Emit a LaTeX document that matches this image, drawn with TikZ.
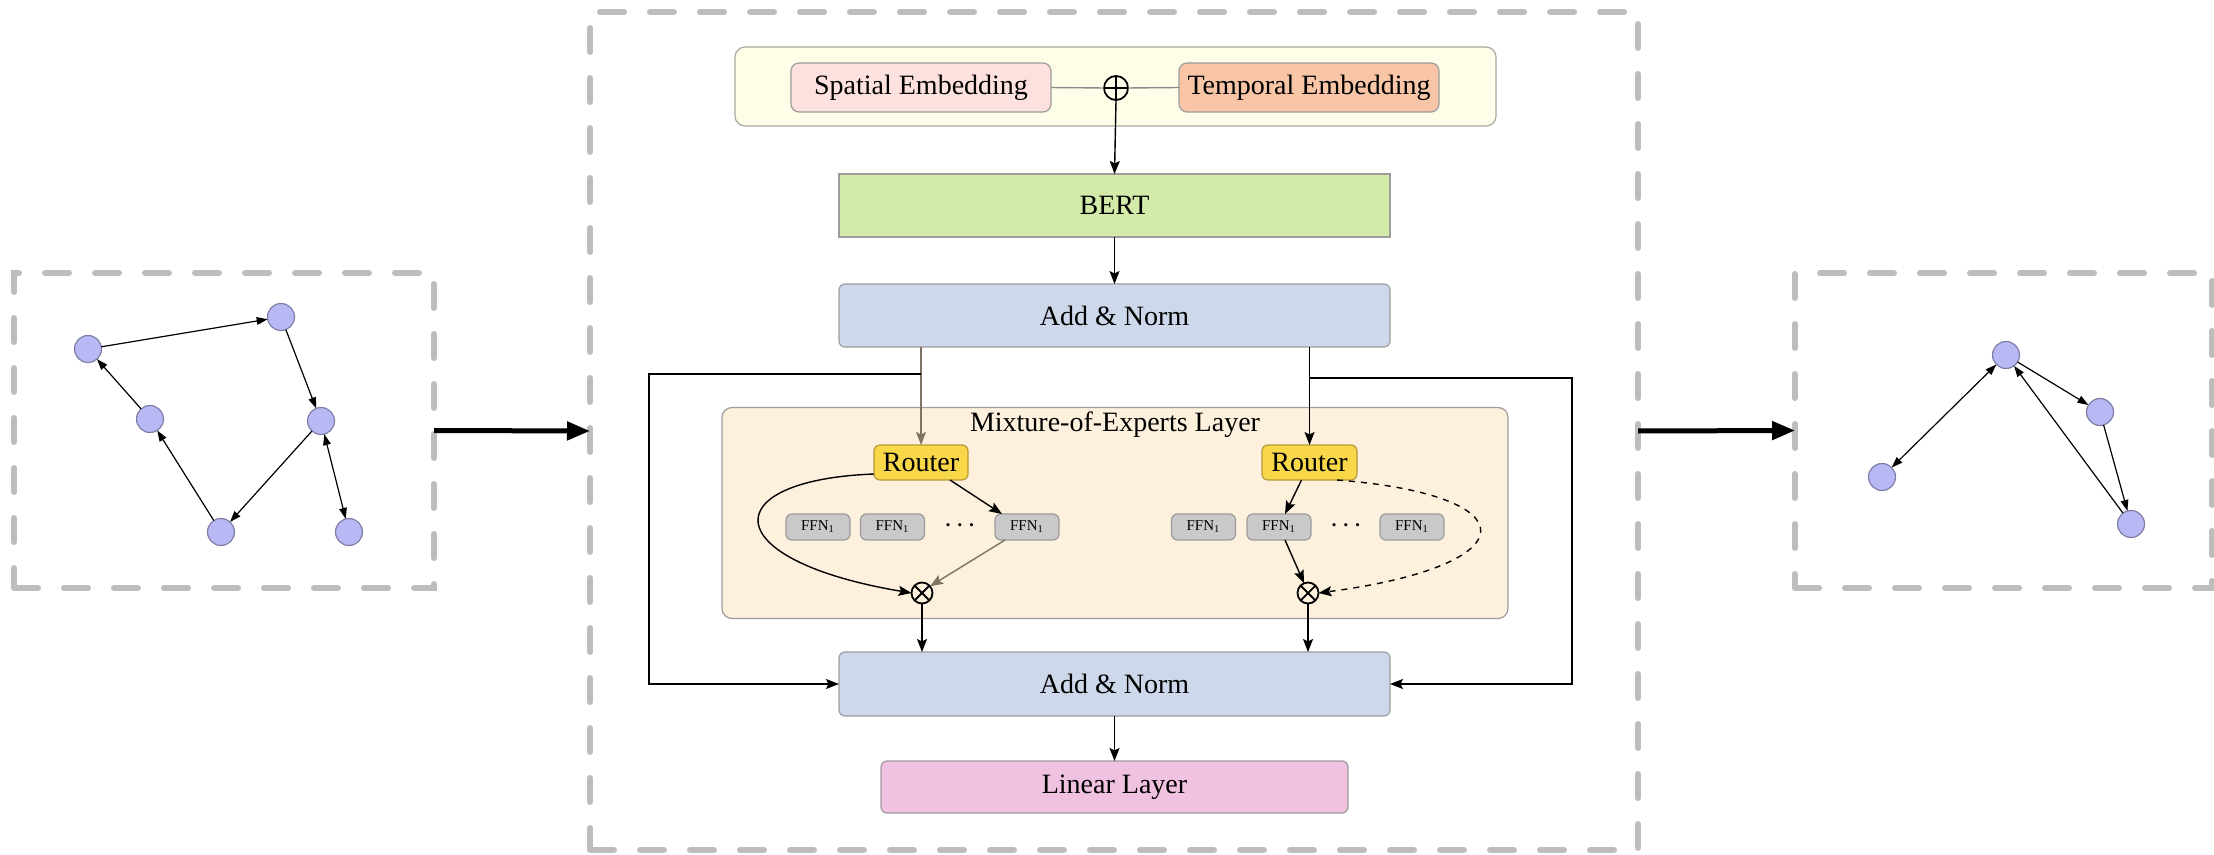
\documentclass[tikz,border=0pt]{standalone}
\usepackage{fontspec}
\setmainfont{Liberation Serif}
\usetikzlibrary{arrows.meta}

\definecolor{dashgray}{HTML}{BDBDBD}
\definecolor{contfill}{HTML}{FDFDE8}
\definecolor{contedge}{HTML}{A9A9A0}
\definecolor{spatialfill}{HTML}{FCE1DF}
\definecolor{temporalfill}{HTML}{F8C6A6}
\definecolor{bertfill}{HTML}{D3EBA9}
\definecolor{anfill}{HTML}{CDD8EA}
\definecolor{moefill}{HTML}{FDF1DD}
\definecolor{routerfill}{HTML}{F8D748}
\definecolor{routeredge}{HTML}{B49A3A}
\definecolor{ffnfill}{HTML}{C9C9C9}
\definecolor{ffnedge}{HTML}{9A9A9A}
\definecolor{linfill}{HTML}{F0C1E0}
\definecolor{gfill}{HTML}{B8B8F5}
\definecolor{gedge}{HTML}{7E7EA8}
\definecolor{brownline}{HTML}{7F7364}
\definecolor{boxedge}{HTML}{9C9C9C}
\definecolor{joinline}{HTML}{8A8A8A}

\begin{document}
\begin{tikzpicture}[x=0.5pt,y=-0.5pt,
  every node/.style={font=\fontsize{14}{16}\selectfont, inner sep=0pt, outer sep=0pt},
  panel/.style={draw=dashgray, line width=3pt, dash pattern=on 12pt off 13pt, line cap=round},
  block/.style={draw=boxedge, line width=0.6pt, rounded corners=3pt},
  ffn/.style={block, fill=ffnfill, draw=ffnedge, minimum width=32pt, minimum height=13pt,
              font=\fontsize{7.5}{9}\selectfont},
  ellipsisdots/.style={font=\fontsize{6.5}{7}\selectfont},
  gnode/.style={circle, fill=gfill, draw=gedge, line width=0.6pt, minimum size=13.5pt},
  garrow/.style={-{Triangle[length=5.5pt,width=3.8pt]}, line width=0.6pt},
  gboth/.style={{Triangle[length=5.5pt,width=3.8pt]}-{Triangle[length=5.5pt,width=3.8pt]}, line width=0.6pt},
  flow/.style={-{Stealth[length=6.5pt,width=5pt,inset=1.2pt]}, line width=0.7pt},
  bigarrow/.style={-{Triangle[length=11.5pt,width=9pt]}, line width=2.5pt},
  opplus/.style={circle, draw, line width=0.9pt, minimum size=12pt,
    path picture={\draw[line width=0.9pt] (path picture bounding box.north) -- (path picture bounding box.south)
                  (path picture bounding box.west) -- (path picture bounding box.east);}},
  optimes/.style={circle, draw, line width=0.9pt, minimum size=10.5pt,
    path picture={\draw[line width=0.9pt] (path picture bounding box.north east) -- (path picture bounding box.south west)
                  (path picture bounding box.north west) -- (path picture bounding box.south east);}}
]
\useasboundingbox (0,0) rectangle (2214,855);

% ---------- dashed panels ----------
\node[panel, minimum width=210pt, minimum height=157.5pt] (lbox) at (224,430.5) {};
\node[panel, minimum width=524pt, minimum height=419pt] (cbox) at (1114,431) {};
\node[panel, minimum width=208.5pt, minimum height=157.5pt] (rbox) at (2003.5,430.5) {};

\draw[bigarrow] (lbox.east) -- (cbox.west);
\draw[bigarrow] (cbox.east) -- (rbox.west);

% ---------- input graph ----------
\node[gnode] (ga) at (88,349) {};
\node[gnode] (gb) at (281,317) {};
\node[gnode] (gc) at (321,421) {};
\node[gnode] (gd) at (150,419) {};
\node[gnode] (ge) at (221,532) {};
\node[gnode] (gf) at (349,532) {};
\draw[garrow] (ga) -- (gb);
\draw[garrow] (gb) -- (gc);
\draw[garrow] (gc) -- (ge);
\draw[garrow] (ge) -- (gd);
\draw[garrow] (gd) -- (ga);
\draw[gboth] (gc) -- (gf);

% ---------- output graph ----------
\node[gnode] (hp) at (2006,355) {};
\node[gnode] (hq) at (2100,412) {};
\node[gnode] (hr) at (1882,477) {};
\node[gnode] (hs) at (2131,524) {};
\draw[gboth] (hp) -- (hr);
\draw[garrow] (hp) -- (hq);
\draw[garrow] (hq) -- (hs);
\draw[garrow] (hs) -- (hp);

% ---------- embeddings ----------
\node[block, draw=contedge, fill=contfill, rounded corners=5pt,
      minimum width=380.5pt, minimum height=39.5pt] (cont) at (1115.5,86.5) {};
\node[block, fill=spatialfill, rounded corners=4pt, minimum width=130pt, minimum height=24.5pt]
      (spatial) at (921,87.5) {Spatial Embedding};
\node[block, fill=temporalfill, rounded corners=4pt, minimum width=130pt, minimum height=24.5pt]
      (temporal) at (1309,87.5) {Temporal Embedding};
\node[opplus] (plus) at (1116,88) {};
\draw[joinline, line width=0.7pt] (spatial.east) -- (plus.west);
\draw[joinline, line width=0.7pt] (plus.east) -- (temporal.west);

% ---------- encoder stack ----------
\node[draw=boxedge, line width=0.6pt, fill=bertfill, minimum width=275.5pt, minimum height=31.5pt]
      (bert) at (1114.5,205.5) {BERT};
\node[block, fill=anfill, minimum width=275.5pt, minimum height=31.5pt]
      (an1) at (1114.5,315.5) {Add \& Norm};
\draw[flow] (plus.south) -- (bert.north);
\draw[flow] (bert.south) -- (an1.north);

% ---------- mixture of experts ----------
\node[block, fill=moefill, rounded corners=5pt, minimum width=393pt, minimum height=105.5pt]
      (moe) at (1115,513) {};
\node (moetitle) at (1115,425) {Mixture-of-Experts Layer};

\node[block, fill=routerfill, draw=routeredge, minimum width=47pt, minimum height=17.5pt]
      (r1) at (921,462.5) {Router};
\node[block, fill=routerfill, draw=routeredge, minimum width=47.5pt, minimum height=17.5pt]
      (r2) at (1309.5,462.5) {Router};

\node[ffn] (f1a) at (818,527) {FFN\textsubscript{1}};
\node[ffn] (f1b) at (892.5,527) {FFN\textsubscript{1}};
\node[ellipsisdots] (d1) at (960,527) {\textbullet\hspace{3.6pt}\textbullet\hspace{3.6pt}\textbullet};
\node[ffn] (f1c) at (1027,527) {FFN\textsubscript{1}};
\node[ffn] (f2a) at (1203.5,527) {FFN\textsubscript{1}};
\node[ffn] (f2b) at (1279,527) {FFN\textsubscript{1}};
\node[ellipsisdots] (d2) at (1346,527) {\textbullet\hspace{3.6pt}\textbullet\hspace{3.6pt}\textbullet};
\node[ffn] (f2c) at (1412,527) {FFN\textsubscript{1}};

\node[optimes] (m1) at (922,593) {};
\node[optimes] (m2) at (1308,593) {};

\draw[flow, brownline] (an1.south -| r1) -- (r1.north);
\draw[flow] (an1.south -| r2) -- (r2.north);

% left expert routing
\draw[flow] ([xshift=-9pt]r1.south east) -- ([xshift=3.5pt]f1c.north west);
\draw[flow, brownline] ([xshift=5pt]f1c.south west) -- (m1.40);
\draw[flow] ([yshift=3pt]r1.south west) .. controls (715,480) and (715,560) .. (m1.west);

% right expert routing
\draw[flow] ([xshift=-4pt]r2.south) -- ([xshift=3pt]f2b.north);
\draw[flow] ([xshift=3pt]f2b.south) -- (m2.112);
\draw[flow, dashed] ([xshift=-10pt]r2.south east) .. controls (1530,495) and (1530,565) .. (m2.east);

% ---------- second add & norm ----------
\node[block, fill=anfill, minimum width=275.5pt, minimum height=32pt]
      (an2) at (1114.5,684) {Add \& Norm};
\node[block, fill=linfill, minimum width=233.5pt, minimum height=26pt]
      (lin) at (1114.5,787) {Linear Layer};

\draw[flow] (m1.south) -- (an2.north -| m1);
\draw[flow] (m2.south) -- (an2.north -| m2);
\draw[flow] (an2.south) -- (lin.north);

% residual connections
\coordinate (jl) at (921,374);
\coordinate (cl) at (649,374);
\coordinate (jr) at (1309,378);
\coordinate (cr) at (1572,378);
\draw[flow] (jl) -- (cl) |- (an2.west);
\draw[flow] (jr) -- (cr) |- (an2.east);
\end{tikzpicture}
\end{document}
